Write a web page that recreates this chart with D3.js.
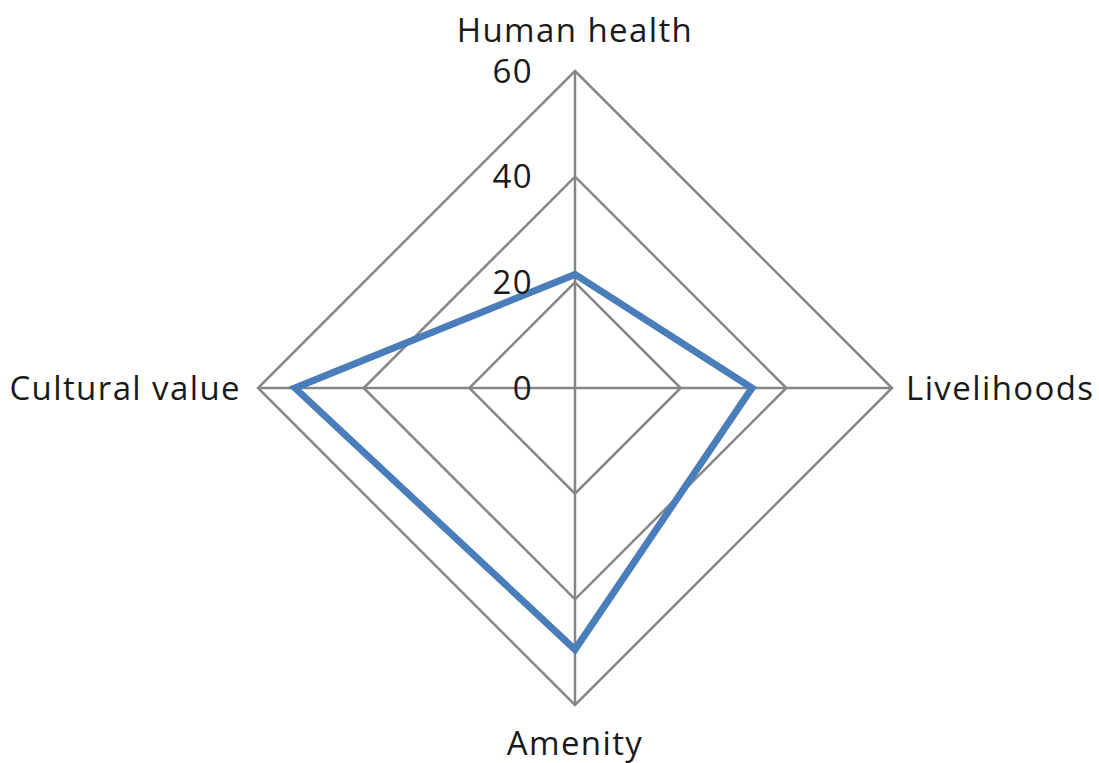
<!DOCTYPE html>
<html>
    <head>
        <meta charset='utf-8'>
        <title>Radar chart</title>
        <script src='https://cdn.jsdelivr.net/npm/d3@7/dist/d3.min.js'></script>
        <style>
            body { margin:0; background:#fff; }
            text { font-family: 'Open Sans', 'Liberation Sans', sans-serif; fill:#1a1a1a; letter-spacing:1.4px; }
        </style>
    </head>
    <body>
        <div id='chart'></div>
        <script>
            var categories = ["Human health", "Livelihoods", "Amenity", "Cultural value"];
            var values = [21.5, 33.5, 49.5, 53];
            var ticks = [0, 20, 40, 60];

            var w = 1099;
            var h = 763;
            var cx = 575, cy = 388;

            var svg = d3.select("#chart")
                        .append("svg")
                        .attr("width", w)
                        .attr("height", h);

            var r = d3.scaleLinear().domain([0, 60]).range([0, 317]);
            var angle = d3.scalePoint().domain(categories).range([0, 2 * Math.PI * 3 / 4]);

            function pt(cat, v) {
                var a = angle(cat);
                return [cx + r(v) * Math.sin(a), cy - r(v) * Math.cos(a)];
            }

            // grid rings
            svg.selectAll("polygon.grid")
                .data(ticks.slice(1))
                .enter()
                .append("polygon")
                .attr("class", "grid")
                .attr("points", function(t) {
                    return categories.map(function(c) { return pt(c, t).join(","); }).join(" ");
                })
                .attr("fill", "none")
                .attr("stroke", "#868686")
                .attr("stroke-width", 2.5);

            // spokes
            svg.selectAll("line.spoke")
                .data(categories)
                .enter()
                .append("line")
                .attr("x1", cx)
                .attr("y1", cy)
                .attr("x2", function(c) { return pt(c, 60)[0]; })
                .attr("y2", function(c) { return pt(c, 60)[1]; })
                .attr("stroke", "#868686")
                .attr("stroke-width", 2.5);

            // data line
            svg.append("path")
                .datum(values)
                .attr("d", d3.line()
                    .x(function(d, i) { return pt(categories[i], d)[0]; })
                    .y(function(d, i) { return pt(categories[i], d)[1]; })
                    .curve(d3.curveLinearClosed))
                .attr("fill", "none")
                .attr("stroke", "#4a7ebb")
                .attr("stroke-width", 7)
                .attr("stroke-linejoin", "miter");

            // tick labels
            svg.selectAll("text.tick")
                .data(ticks)
                .enter()
                .append("text")
                .text(function(d) { return d; })
                .attr("x", cx - 42)
                .attr("y", function(d) { return cy - r(d); })
                .attr("dy", "0.35em")
                .attr("text-anchor", "end")
                .attr("font-size", "33px");

            // category labels
            var anchors = ["middle", "start", "middle", "end"];
            svg.selectAll("text.cat")
                .data(categories)
                .enter()
                .append("text")
                .text(function(d) { return d; })
                .attr("x", function(d, i) {
                    var p = pt(d, 60);
                    return i === 1 ? p[0] + 14 : i === 3 ? p[0] - 17 : p[0];
                })
                .attr("y", function(d, i) {
                    var p = pt(d, 60);
                    return i === 0 ? p[1] - 29 : i === 2 ? p[1] + 50 : p[1] + 12;
                })
                .attr("text-anchor", function(d, i) { return anchors[i]; })
                .attr("font-size", "33px");
        </script>
    </body>
</html>
